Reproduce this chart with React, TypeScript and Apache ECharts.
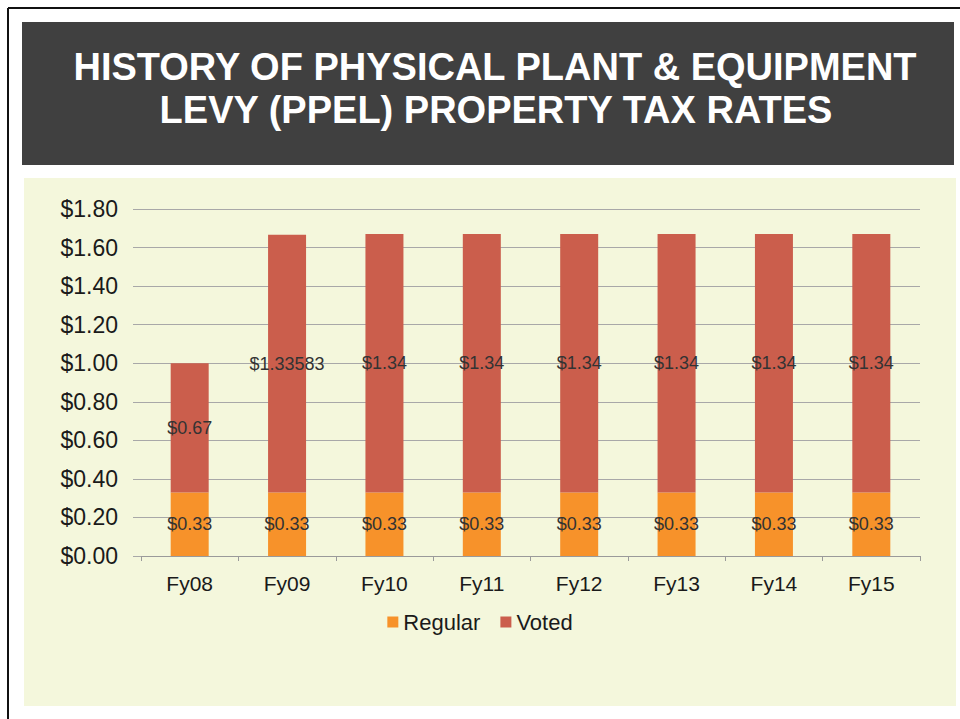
import React, { useEffect, useRef } from "react";
import * as echarts from "echarts";

const categories = ["Fy08", "Fy09", "Fy10", "Fy11", "Fy12", "Fy13", "Fy14", "Fy15"];
const regular = [0.33, 0.33, 0.33, 0.33, 0.33, 0.33, 0.33, 0.33];
const voted = [0.67, 1.33583, 1.34, 1.34, 1.34, 1.34, 1.34, 1.34];
const titleLines = ["HISTORY OF PHYSICAL PLANT & EQUIPMENT", "LEVY (PPEL) PROPERTY TAX RATES"];
const seriesNames = ["Regular", "Voted"];

const FONT = "'Liberation Sans', Arial, sans-serif";

export default function App() {
  const ref = useRef<HTMLDivElement>(null);
  useEffect(() => {
    if (!ref.current) return;
    const chart = echarts.init(ref.current, null, { renderer: "svg" });
    const labelStyle = {
      show: true,
      position: "inside",
      fontFamily: FONT,
      fontSize: 18,
      color: "#333333",
      formatter: (p: any) => "$" + String(p.value),
    };
    chart.setOption({
      animation: false,
      backgroundColor: "#ffffff",
      graphic: [
        { type: "rect", z: -10, shape: { x: 24, y: 178, width: 932, height: 528 }, style: { fill: "#f4f7dc" } },
        { type: "rect", z: -10, shape: { x: 22, y: 22, width: 932, height: 143 }, style: { fill: "#404040" } },
        { type: "line", z: -5, shape: { x1: 8, y1: 8, x2: 960, y2: 8 }, style: { stroke: "#111", lineWidth: 2 } },
        { type: "line", z: -5, shape: { x1: 8, y1: 8, x2: 8, y2: 719 }, style: { stroke: "#111", lineWidth: 2 } },
        {
          type: "text", z: 5, x: 495, y: 67,
          style: { text: titleLines[0], fill: "#ffffff", font: `bold 38px ${FONT}`, textAlign: "center", textVerticalAlign: "middle" },
        },
        {
          type: "text", z: 5, x: 496, y: 110,
          style: { text: titleLines[1], fill: "#ffffff", font: `bold 38px ${FONT}`, textAlign: "center", textVerticalAlign: "middle" },
        },
      ],
      grid: { left: 141, right: 40, top: 209, bottom: 163, containLabel: false },
      legend: {
        data: seriesNames,
        left: "center",
        top: 606,
        itemWidth: 11,
        itemHeight: 11,
        itemGap: 20,
        icon: "rect",
        textStyle: { fontFamily: FONT, fontSize: 22, color: "#1a1a1a" },
      },
      xAxis: {
        type: "category",
        data: categories,
        axisLine: { show: true, lineStyle: { color: "#9a9a9a", width: 1 } },
        axisTick: { show: true, length: 5, lineStyle: { color: "#9a9a9a" } },
        axisLabel: { fontFamily: FONT, fontSize: 21, color: "#1a1a1a", margin: 17 },
      },
      yAxis: {
        type: "value",
        min: 0,
        max: 1.8,
        interval: 0.2,
        axisLine: { show: false },
        axisTick: { show: true, length: 8, lineStyle: { color: "#a8a8a8" } },
        splitLine: { show: true, lineStyle: { color: "#a8a8a8", width: 1 } },
        axisLabel: {
          fontFamily: FONT,
          fontSize: 23,
          color: "#1a1a1a",
          margin: 23,
          formatter: (v: number) => "$" + v.toFixed(2),
        },
      },
      series: [
        {
          name: seriesNames[0],
          type: "bar",
          stack: "total",
          data: regular,
          barWidth: 38,
          itemStyle: { color: "#f7922a" },
          label: labelStyle,
        },
        {
          name: seriesNames[1],
          type: "bar",
          stack: "total",
          data: voted,
          barWidth: 38,
          itemStyle: { color: "#cb5e4c" },
          label: labelStyle,
        },
      ],
    });
    return () => chart.dispose();
  }, []);
  return (
    <div
      ref={ref}
      style={{ position: "absolute", left: 0, top: 0, width: 960, height: 719 }}
    />
  );
}
